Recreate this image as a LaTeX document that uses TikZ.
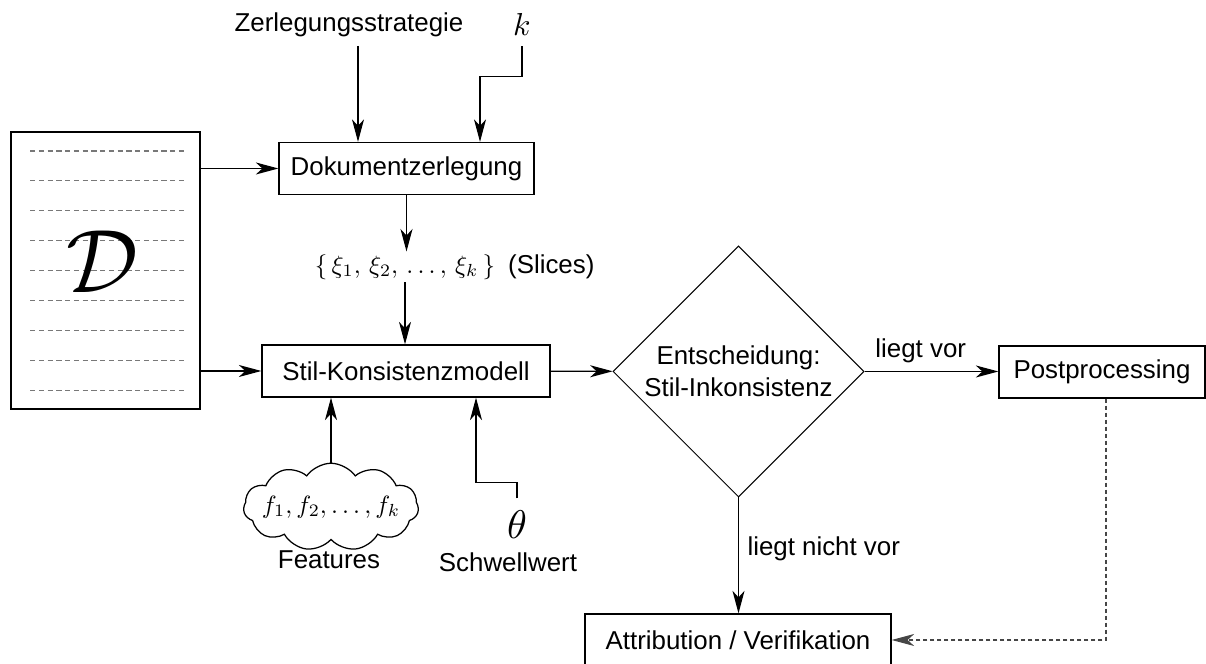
\documentclass[tikz,border=0pt]{standalone}
\usepackage{fontspec}
\setmainfont{Liberation Sans}
\usepackage{amsmath}
\usetikzlibrary{arrows.meta,positioning,shapes.geometric,shapes.symbols}
\definecolor{linegray}{RGB}{120,120,120}
\definecolor{dashgray}{RGB}{70,70,70}
\newcommand{\mainsize}{\fontsize{10.35pt}{13pt}\selectfont}
\tikzset{
  stepbox/.style={draw, line width=0.5pt, minimum height=20.8pt, align=center, font=\mainsize},
  docpage/.style={draw, line width=0.7pt, minimum width=75.6pt, minimum height=110.8pt},
  docline/.style={draw=linegray, line width=0.45pt, dash pattern=on 2.1pt off 1.4pt},
  decision/.style={diamond, draw, line width=0.4pt, minimum width=100.4pt, minimum height=100.4pt,
    inner sep=0pt, align=center, font=\mainsize},
  featcloud/.style={cloud, draw, line width=0.5pt, cloud puffs=11, cloud puff arc=110,
    cloud ignores aspect, minimum width=70pt, minimum height=35pt},
  labeltext/.style={font=\mainsize},
  flow/.style={-{Stealth[length=9pt,width=4.8pt,inset=2.6pt]}, line width=0.55pt},
  dashedflow/.style={-{Stealth[length=9pt,width=4.8pt,inset=2.6pt]}, line width=0.55pt, draw=dashgray,
    dash pattern=on 1.8pt off 1pt}
}

\begin{document}
\begin{tikzpicture}[x=0.4pt, y=0.4pt]
\useasboundingbox (0,0) rectangle (1206,664);

% Dokument
\node[docpage] (doc) at (105.5,393.5) {};
\foreach \i in {0,...,8}
  \draw[docline] (30,513-29.9*\i) -- (185,513-29.9*\i);
\node[scale=3.6] (calD) at (102,402) {$\mathcal{D}$};

% Zerlegung
\node[stepbox, minimum width=102pt] (zerl) at (406.5,495.5) {Dokumentzerlegung};
\node[labeltext] (strat) at (349,639) {Zerlegungsstrategie};
\node[scale=1.27] (kval) at (522,640) {$k$};
\node[inner sep=1pt] (slices) at (405,397) {$\{\,\xi_1,\,\xi_2,\,\ldots,\,\xi_k\,\}$};
\node[labeltext, inner sep=1pt, right=1mm of slices] (slicestag) {(Slices)};

% Modell und Entscheidung
\node[stepbox, minimum width=115.2pt] (stil) at (406,293) {Stil-Konsistenzmodell};
\node[decision] (dec) at (738.5,292.5) {Entscheidung:\\Stil-Inkonsistenz};
\node[stepbox, minimum width=82.4pt] (post) at (1102,292) {Postprocessing};
\node[stepbox, minimum width=122.4pt] (attr) at (738,24) {Attribution / Verifikation};

% Features und Schwellwert
\node[featcloud] (feat) at (331,157) {};
\node (featvals) at (feat) {$f_1, f_2, \ldots, f_k$};
\node[labeltext] (featlbl) at (329,104) {Features};
\node[scale=1.6, inner sep=3pt] (theta) at (517,139) {$\theta$};
\node[labeltext] (thetalbl) at (508,102) {Schwellwert};

\draw[flow] ([xshift=3.6pt]strat.south) -- ([xshift=3.6pt]strat.south |- zerl.north);
\draw[flow] (kval.south) -- ++(0,-30) -| (480,0 |- zerl.north);
\draw[flow] (doc.east |- zerl) -- (zerl);
\draw[flow] (zerl.south) -- (zerl.south |- slices.north);
\draw[flow] (slices.south) -- (slices.south |- stil.north);
\draw[flow] (doc.east |- stil) -- (stil);
\draw[flow] (stil) -- (dec);
\draw[flow] (dec.east) -- node[labeltext, above, pos=0.42] {liegt vor} (dec.east -| post.west);
\draw[flow] (dec.south) -- node[labeltext, right, pos=0.44] {liegt nicht vor} (dec.south |- attr.north);
\draw[dashedflow] ([xshift=1.6pt]post.south) |- (attr.east);
\draw[flow] (feat.north) -- (feat.north |- stil.south);
\draw[flow] (theta.north) -- ++(0,16) -| (476,0 |- stil.south);
\end{tikzpicture}
\end{document}
